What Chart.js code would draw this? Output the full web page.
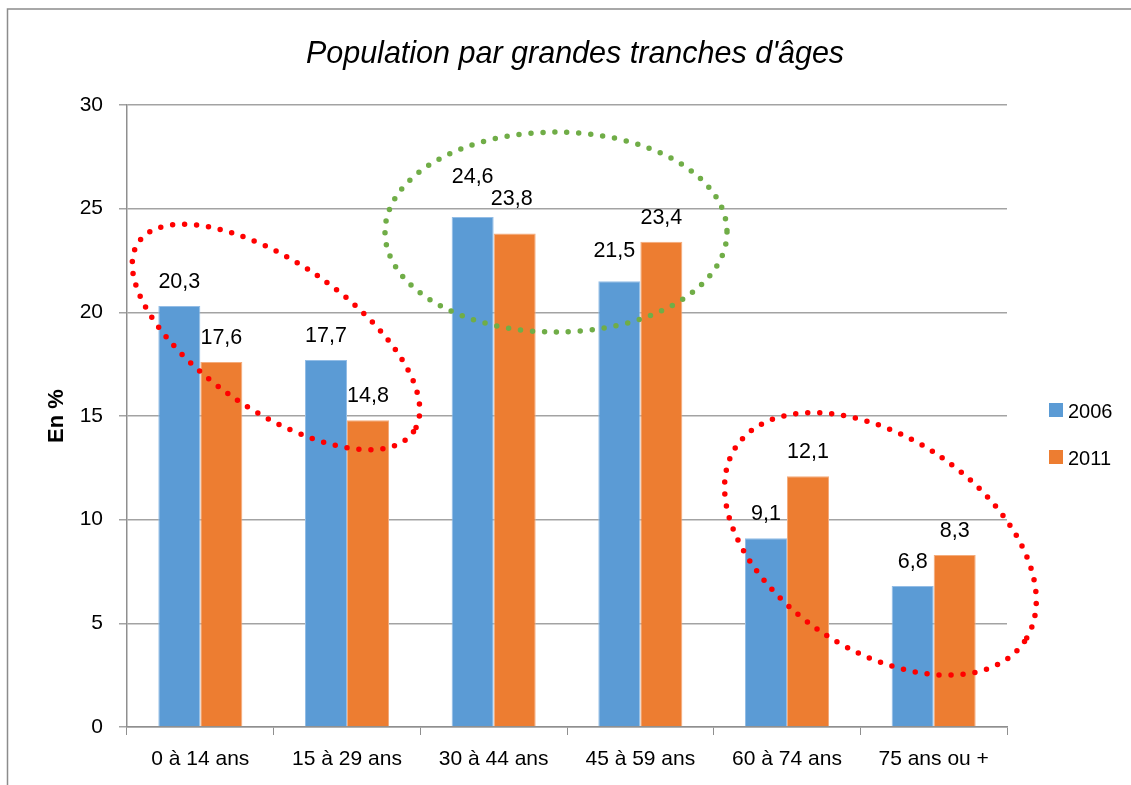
<!DOCTYPE html>
<html lang="fr">
<head>
<meta charset="utf-8">
<title>Population par grandes tranches d'âges</title>
<script src="https://cdn.jsdelivr.net/npm/chart.js@4.4.1/dist/chart.umd.min.js"></script>
<style>
  html, body { margin: 0; padding: 0; background: #fff; }
  canvas { display: block; }
</style>
</head>
<body>
<canvas id="popChart" width="1131" height="785"></canvas>
<script>
const categories = ['0 à 14 ans', '15 à 29 ans', '30 à 44 ans', '45 à 59 ans', '60 à 74 ans', '75 ans ou +'];
const pop2006 = [20.3, 17.7, 24.6, 21.5, 9.1, 6.8];
const pop2011 = [17.6, 14.8, 23.8, 23.4, 12.1, 8.3];
const yTicks = [0, 5, 10, 15, 20, 25, 30];

const FONT = "'Liberation Sans', Arial, sans-serif";
const GRID = '#a3a3a3';
const AXIS = '#8f8f8f';

// dotted rings drawn over the bars (centre in category / value units)
const rings = [
  { at: [0.516, 18.81], rx: 167, ry: 74, angle: 34.6, color: '#ff0000' },
  { at: [2.425, 23.87], rx: 171, ry: 100, angle: 0, color: '#70ad47' },
  { at: [4.637, 8.83], rx: 174, ry: 106, angle: 34.1, color: '#ff0000' },
];

// a few labels were moved by hand in the original
const labelNudge = { '0-2': [0, 16], '1-2': [-3, 11], '0-3': [-5, 6] };

const fmt = v => v.toFixed(1).replace('.', ',');

const framePlugin = {
  id: 'frame',
  beforeDraw(chart) {
    const ctx = chart.ctx;
    ctx.save();
    ctx.strokeStyle = '#8c8c8c';
    ctx.lineWidth = 1.5;
    ctx.beginPath();
    ctx.moveTo(7.5, chart.height);
    ctx.lineTo(7.5, 9);
    ctx.lineTo(chart.width, 9);
    ctx.stroke();

    ctx.fillStyle = '#000';
    ctx.font = `italic 30.5px ${FONT}`;
    ctx.textAlign = 'center';
    ctx.textBaseline = 'alphabetic';
    ctx.fillText("Population par grandes tranches d'âges", 575, 63);
    ctx.restore();
  }
};

const labelPlugin = {
  id: 'barLabels',
  afterDatasetsDraw(chart) {
    const ctx = chart.ctx;
    ctx.save();
    ctx.fillStyle = '#000';
    ctx.font = `21.5px ${FONT}`;
    ctx.textAlign = 'center';
    ctx.textBaseline = 'alphabetic';
    chart.data.datasets.forEach((ds, di) => {
      chart.getDatasetMeta(di).data.forEach((bar, i) => {
        const n = labelNudge[di + '-' + i] || [0, 0];
        ctx.fillText(fmt(ds.data[i]), bar.x + n[0], bar.y - 18 - n[1]);
      });
    });
    ctx.restore();
  }
};

const ringPlugin = {
  id: 'rings',
  afterDraw(chart) {
    const ctx = chart.ctx;
    const x = chart.scales.x, y = chart.scales.y;
    ctx.save();
    ctx.lineWidth = 5.5;
    ctx.lineCap = 'round';
    ctx.setLineDash([0, 12]);
    rings.forEach(r => {
      ctx.strokeStyle = r.color;
      ctx.beginPath();
      ctx.ellipse(x.getPixelForValue(r.at[0]), y.getPixelForValue(r.at[1]),
        r.rx, r.ry, r.angle * Math.PI / 180, 0, Math.PI * 2);
      ctx.stroke();
    });
    ctx.restore();
  }
};

const legendPlugin = {
  id: 'sideLegend',
  afterDraw(chart) {
    const ctx = chart.ctx;
    ctx.save();
    ctx.font = `20px ${FONT}`;
    ctx.textAlign = 'left';
    ctx.textBaseline = 'alphabetic';
    chart.data.datasets.forEach((ds, i) => {
      const top = 403 + i * 47;
      ctx.fillStyle = ds.backgroundColor;
      ctx.fillRect(1049, top, 14, 14);
      ctx.fillStyle = '#000';
      ctx.fillText(ds.label, 1068, top + 15);
    });
    ctx.restore();
  }
};

new Chart(document.getElementById('popChart'), {
  type: 'bar',
  data: {
    labels: categories,
    datasets: [
      { label: '2006', data: pop2006, backgroundColor: '#5b9bd5', borderColor: '#93bde6', borderWidth: 1 },
      { label: '2011', data: pop2011, backgroundColor: '#ed7d31', borderColor: '#f4ac7c', borderWidth: 1 },
    ]
  },
  options: {
    responsive: false,
    animation: false,
    categoryPercentage: 0.573,
    barPercentage: 1,
    layout: { padding: { top: 105, right: 124, bottom: 0, left: 8 } },
    plugins: {
      legend: { display: false },
      title: { display: false },
      tooltip: { enabled: false },
    },
    scales: {
      x: {
        grid: { display: true, drawOnChartArea: false, drawTicks: true, tickLength: 8, color: AXIS, offset: true },
        border: { color: AXIS, width: 1.5 },
        ticks: { color: '#000', font: { family: FONT, size: 21 }, padding: 12, maxRotation: 0 },
        afterFit(scale) { scale.height = 58; },
      },
      y: {
        min: 0,
        max: 30,
        afterBuildTicks(scale) { scale.ticks = yTicks.map(v => ({ value: v })); },
        grid: { color: GRID, lineWidth: 1.5, tickLength: 8 },
        border: { color: AXIS, width: 1.5 },
        ticks: { color: '#000', font: { family: FONT, size: 21 }, padding: 16 },
        title: {
          display: true,
          text: 'En %',
          color: '#000',
          font: { family: FONT, size: 22, weight: 'bold' },
          padding: { top: 36, bottom: 0 },
        },
        afterFit(scale) { scale.width = 119; },
      }
    }
  },
  plugins: [framePlugin, labelPlugin, ringPlugin, legendPlugin]
});
</script>
</body>
</html>
